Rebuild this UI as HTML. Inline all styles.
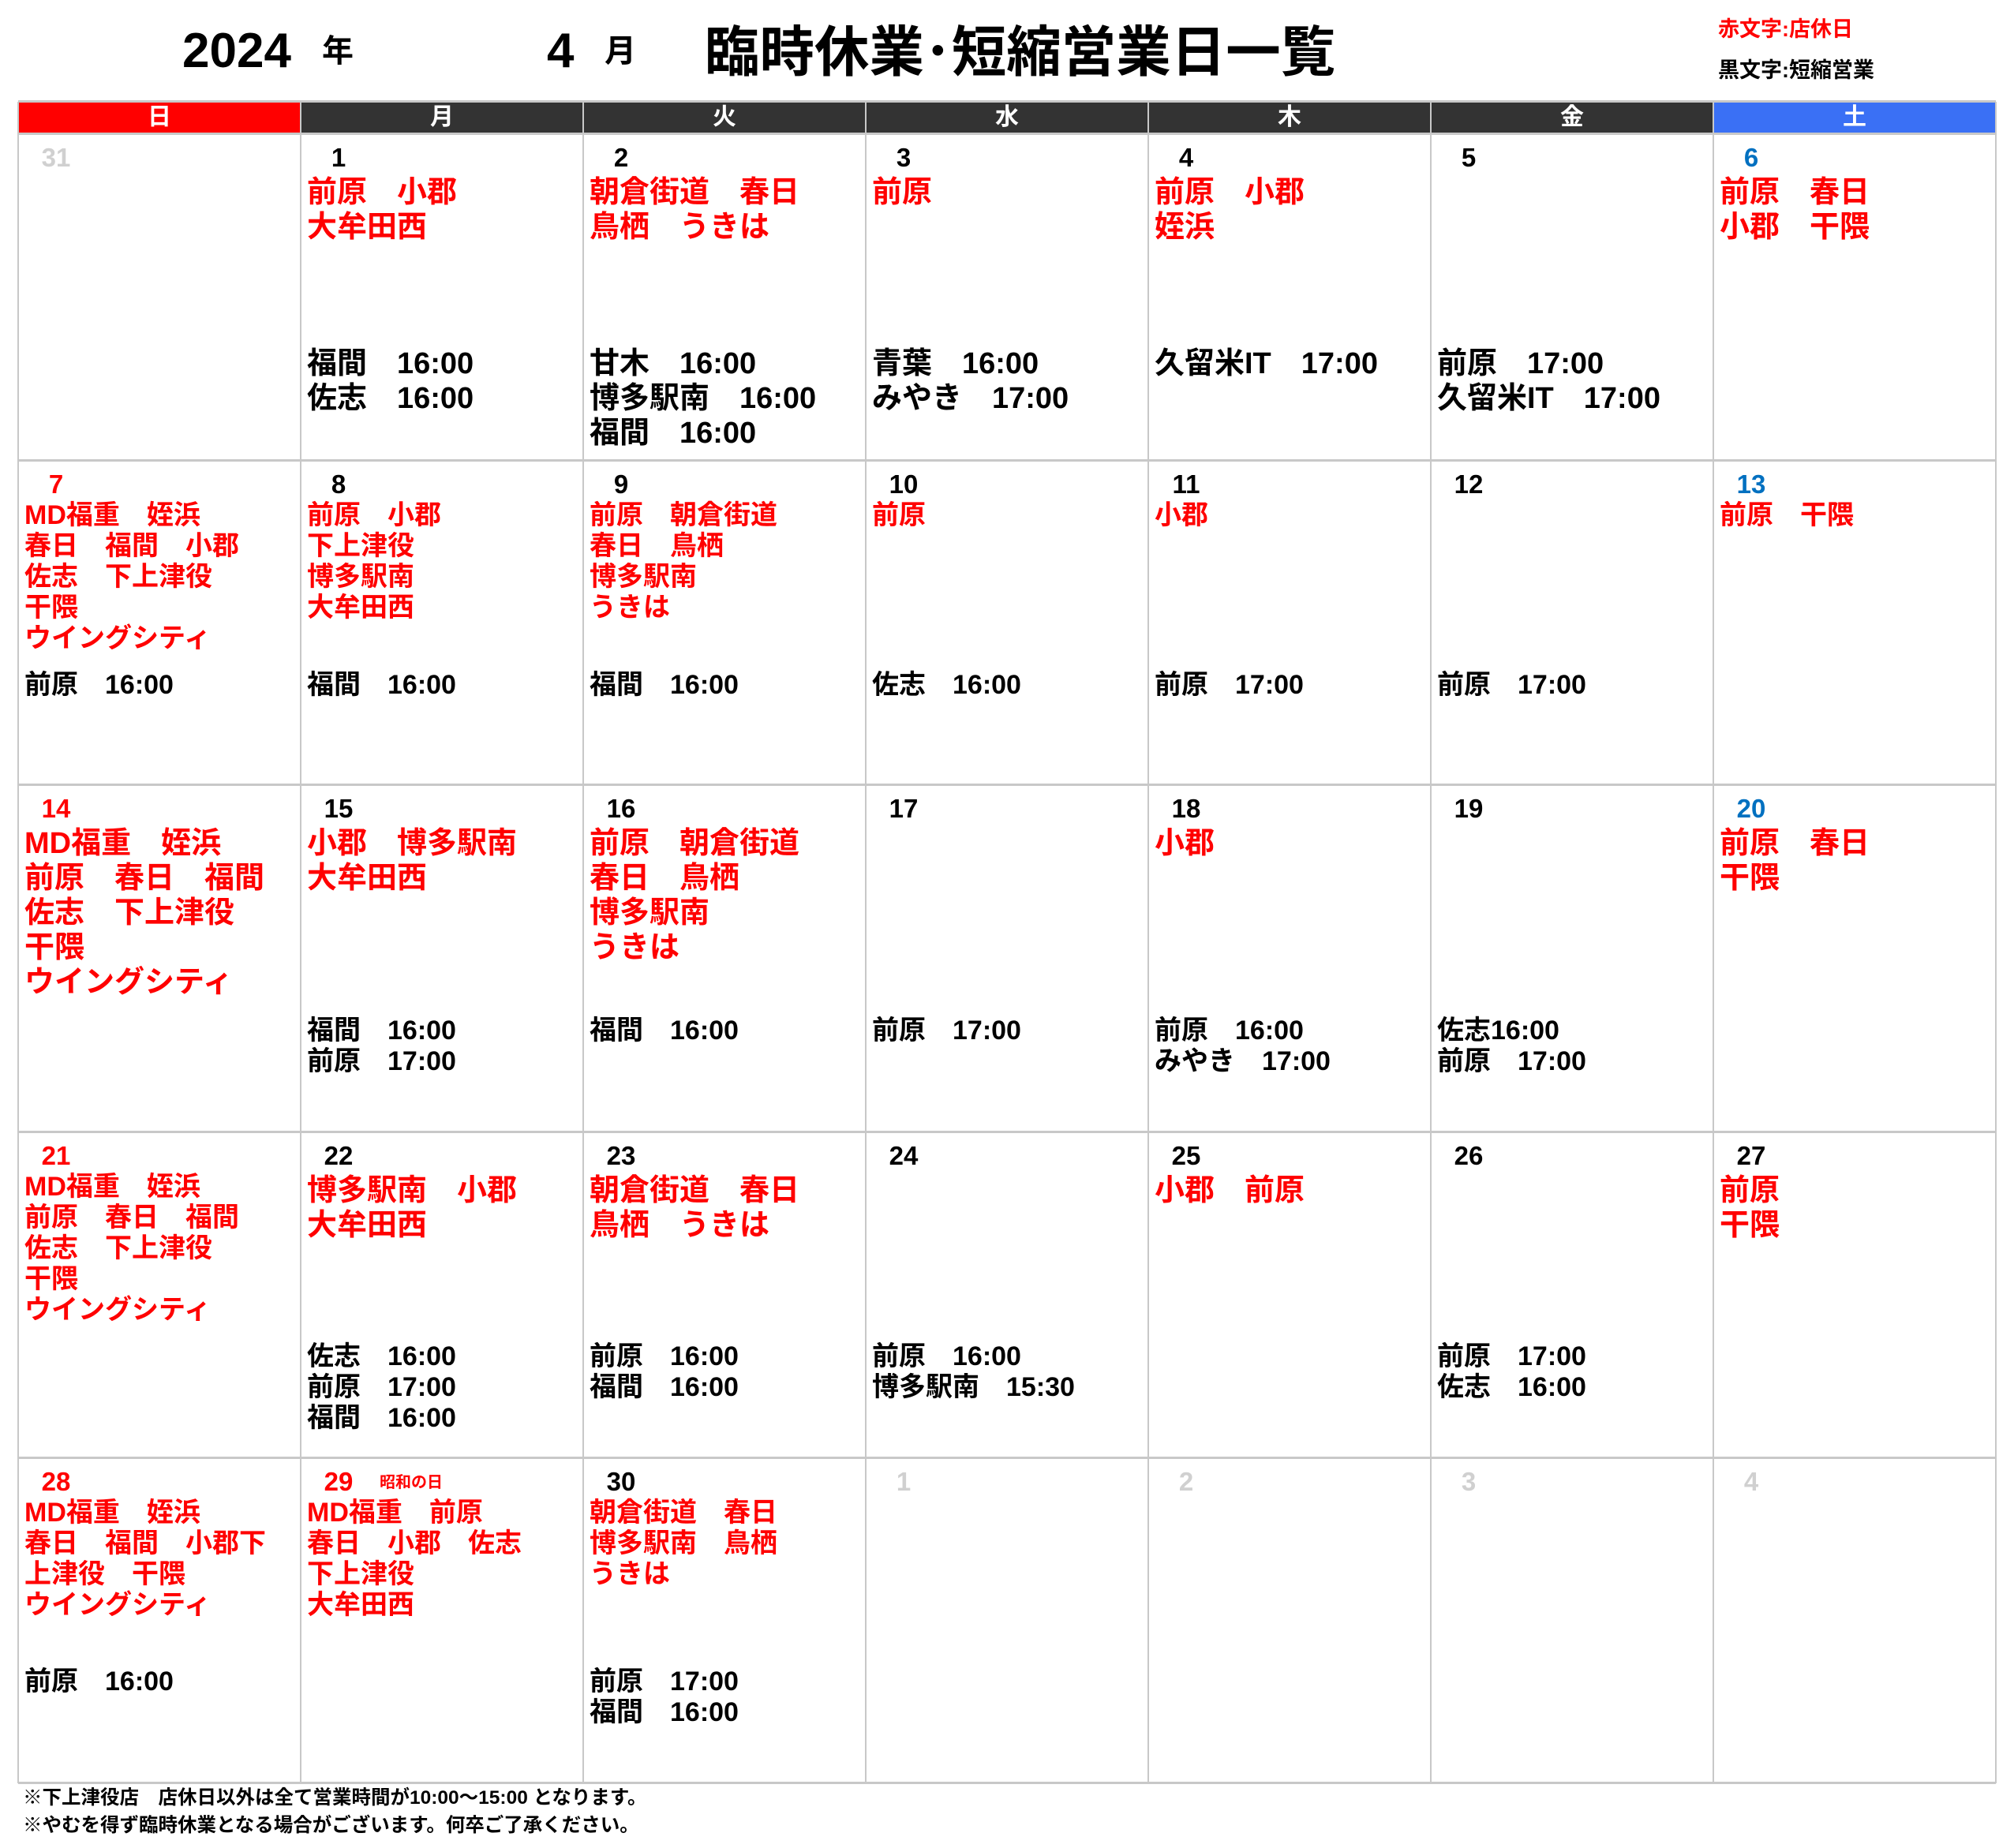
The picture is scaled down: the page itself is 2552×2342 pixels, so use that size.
<!DOCTYPE html>
<html><head><meta charset="utf-8">
<style>
body{margin:0;width:2552px;height:2342px;background:#fff;position:relative;overflow:hidden;font-family:"Liberation Sans","Noto Sans CJK JP",sans-serif;font-weight:bold}
div{position:absolute;white-space:pre}
.t{font-size:62px;top:28px;line-height:74px}
.h{top:129px;height:40px;width:358px;color:#fff;text-align:center;font-size:30px;line-height:40px;background:#333}
.v{top:129px;width:2px;height:2131px;background:#c8c8c8}
.hl{left:23px;width:2506px;height:3px;background:#c8c8c8}
.c{width:358px}
.d{left:0;width:96px;text-align:center;top:14px;font-size:33px;line-height:34px;color:#000}
.g{color:#d0d0d0}.rd{color:#f00}.bl{color:#0070c0}
.r{left:8px;color:#f00}
.b{left:8px;color:#000}
.L{font-size:38px;line-height:44px;top:53px}
.S{font-size:34px;line-height:39px;top:51px}
.b.L{top:270px}
.b1{top:266px}.b3{top:293px}.b4{top:266px}.b5{top:265px}
.ft{left:29px;font-size:24.5px;line-height:30px}
</style></head><body>
<div class="t" style="left:231px">2024</div>
<div style="left:408px;top:40px;font-size:40px;line-height:50px">年</div>
<div class="t" style="left:693px">4</div>
<div style="left:766px;top:40px;font-size:40px;line-height:50px">月</div>
<div style="left:893px;top:24px;font-size:69.5px;line-height:84px">臨時休業･短縮営業日一覧</div>
<div style="left:2177px;top:21px;font-size:27px;line-height:32px;color:#f00">赤文字:店休日</div>
<div style="left:2177px;top:73px;font-size:27px;line-height:32px">黒文字:短縮営業</div>

<div class="h" style="left:23px;background:#f00">日</div>
<div class="h" style="left:381px">月</div>
<div class="h" style="left:739px">火</div>
<div class="h" style="left:1097px">水</div>
<div class="h" style="left:1455px">木</div>
<div class="h" style="left:1813px">金</div>
<div class="h" style="left:2171px;background:#3a70f5">土</div>

<div class="hl" style="top:127px"></div>
<div class="hl" style="top:168px"></div>
<div class="hl" style="top:582px"></div>
<div class="hl" style="top:993px"></div>
<div class="hl" style="top:1433px"></div>
<div class="hl" style="top:1846px"></div>
<div class="hl" style="top:2258px"></div>
<div class="v" style="left:22px"></div>
<div class="v" style="left:380px"></div>
<div class="v" style="left:738px"></div>
<div class="v" style="left:1096px"></div>
<div class="v" style="left:1454px"></div>
<div class="v" style="left:1812px"></div>
<div class="v" style="left:2170px"></div>
<div class="v" style="left:2528px"></div>

<div class="c" style="left:23px;top:169px"><div class="d g">31</div></div>
<div class="c" style="left:381px;top:169px"><div class="d">1</div><div class="r L">前原　小郡
大牟田西</div><div class="b L">福間　16:00
佐志　16:00</div></div>
<div class="c" style="left:739px;top:169px"><div class="d">2</div><div class="r L">朝倉街道　春日
鳥栖　うきは</div><div class="b L">甘木　16:00
博多駅南　16:00
福間　16:00</div></div>
<div class="c" style="left:1097px;top:169px"><div class="d">3</div><div class="r L">前原</div><div class="b L">青葉　16:00
みやき　17:00</div></div>
<div class="c" style="left:1455px;top:169px"><div class="d">4</div><div class="r L">前原　小郡
姪浜</div><div class="b L">久留米IT　17:00</div></div>
<div class="c" style="left:1813px;top:169px"><div class="d">5</div><div class="b L">前原　17:00
久留米IT　17:00</div></div>
<div class="c" style="left:2171px;top:169px"><div class="d bl">6</div><div class="r L">前原　春日
小郡　干隈</div></div>

<div class="c" style="left:23px;top:583px"><div class="d rd">7</div><div class="r S">MD福重　姪浜
春日　福間　小郡
佐志　下上津役
干隈
ウイングシティ</div><div class="b S b1">前原　16:00</div></div>
<div class="c" style="left:381px;top:583px"><div class="d">8</div><div class="r S">前原　小郡
下上津役
博多駅南
大牟田西</div><div class="b S b1">福間　16:00</div></div>
<div class="c" style="left:739px;top:583px"><div class="d">9</div><div class="r S">前原　朝倉街道
春日　鳥栖
博多駅南
うきは</div><div class="b S b1">福間　16:00</div></div>
<div class="c" style="left:1097px;top:583px"><div class="d">10</div><div class="r S">前原</div><div class="b S b1">佐志　16:00</div></div>
<div class="c" style="left:1455px;top:583px"><div class="d">11</div><div class="r S">小郡</div><div class="b S b1">前原　17:00</div></div>
<div class="c" style="left:1813px;top:583px"><div class="d">12</div><div class="b S b1">前原　17:00</div></div>
<div class="c" style="left:2171px;top:583px"><div class="d bl">13</div><div class="r S">前原　干隈</div></div>

<div class="c" style="left:23px;top:994px"><div class="d rd">14</div><div class="r L">MD福重　姪浜
前原　春日　福間
佐志　下上津役
干隈
ウイングシティ</div></div>
<div class="c" style="left:381px;top:994px"><div class="d">15</div><div class="r L">小郡　博多駅南
大牟田西</div><div class="b S b3">福間　16:00
前原　17:00</div></div>
<div class="c" style="left:739px;top:994px"><div class="d">16</div><div class="r L">前原　朝倉街道
春日　鳥栖
博多駅南
うきは</div><div class="b S b3">福間　16:00</div></div>
<div class="c" style="left:1097px;top:994px"><div class="d">17</div><div class="b S b3">前原　17:00</div></div>
<div class="c" style="left:1455px;top:994px"><div class="d">18</div><div class="r L">小郡</div><div class="b S b3">前原　16:00
みやき　17:00</div></div>
<div class="c" style="left:1813px;top:994px"><div class="d">19</div><div class="b S b3">佐志16:00
前原　17:00</div></div>
<div class="c" style="left:2171px;top:994px"><div class="d bl">20</div><div class="r L">前原　春日
干隈</div></div>

<div class="c" style="left:23px;top:1434px"><div class="d rd">21</div><div class="r S">MD福重　姪浜
前原　春日　福間
佐志　下上津役
干隈
ウイングシティ</div></div>
<div class="c" style="left:381px;top:1434px"><div class="d">22</div><div class="r L">博多駅南　小郡
大牟田西</div><div class="b S b4">佐志　16:00
前原　17:00
福間　16:00</div></div>
<div class="c" style="left:739px;top:1434px"><div class="d">23</div><div class="r L">朝倉街道　春日
鳥栖　うきは</div><div class="b S b4">前原　16:00
福間　16:00</div></div>
<div class="c" style="left:1097px;top:1434px"><div class="d">24</div><div class="b S b4">前原　16:00
博多駅南　15:30</div></div>
<div class="c" style="left:1455px;top:1434px"><div class="d">25</div><div class="r L">小郡　前原</div></div>
<div class="c" style="left:1813px;top:1434px"><div class="d">26</div><div class="b S b4">前原　17:00
佐志　16:00</div></div>
<div class="c" style="left:2171px;top:1434px"><div class="d">27</div><div class="r L">前原
干隈</div></div>

<div class="c" style="left:23px;top:1847px"><div class="d rd">28</div><div class="r S">MD福重　姪浜
春日　福間　小郡下
上津役　干隈
ウイングシティ</div><div class="b S b5">前原　16:00</div></div>
<div class="c" style="left:381px;top:1847px"><div class="d rd">29</div><div style="left:100px;top:20px;font-size:20px;line-height:24px;color:#f00">昭和の日</div><div class="r S">MD福重　前原
春日　小郡　佐志
下上津役
大牟田西</div></div>
<div class="c" style="left:739px;top:1847px"><div class="d">30</div><div class="r S">朝倉街道　春日
博多駅南　鳥栖
うきは</div><div class="b S b5">前原　17:00
福間　16:00</div></div>
<div class="c" style="left:1097px;top:1847px"><div class="d g">1</div></div>
<div class="c" style="left:1455px;top:1847px"><div class="d g">2</div></div>
<div class="c" style="left:1813px;top:1847px"><div class="d g">3</div></div>
<div class="c" style="left:2171px;top:1847px"><div class="d g">4</div></div>

<div class="ft" style="top:2264px">※下上津役店　店休日以外は全て営業時間が10:00～15:00 となります。</div>
<div class="ft" style="top:2299px">※やむを得ず臨時休業となる場合がございます。何卒ご了承ください。</div>
</body></html>
